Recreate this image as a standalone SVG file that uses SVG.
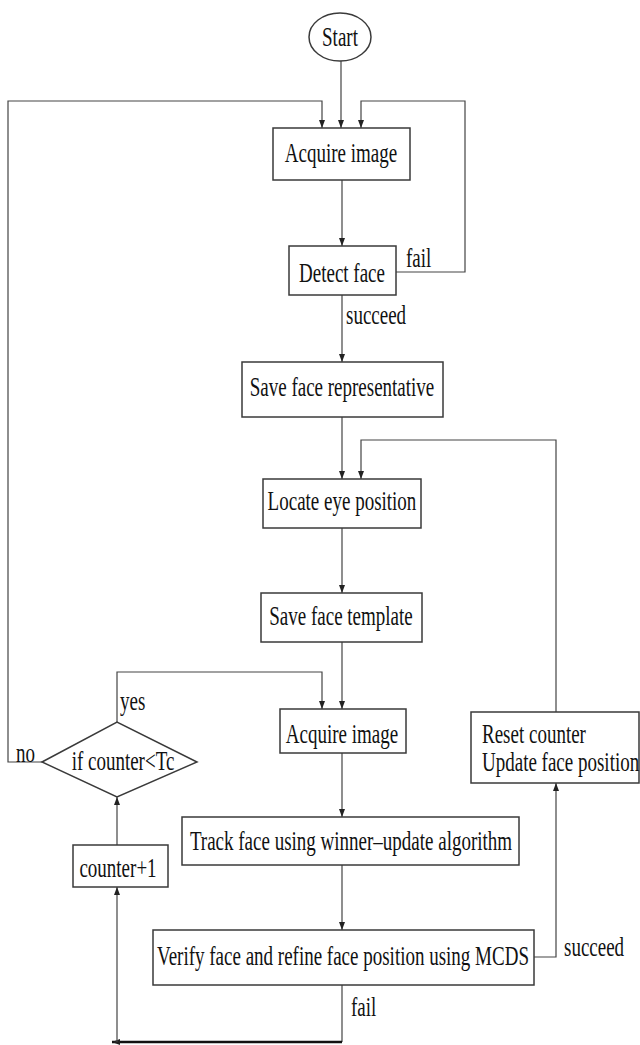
<svg xmlns="http://www.w3.org/2000/svg" width="640" height="1045" viewBox="0 0 640 1045">
<style>
.bg{fill:#ffffff}
.box{fill:#ffffff;stroke:#3a3a3a;stroke-width:1.5}
.ln{fill:none;stroke:#444;stroke-width:1.2}
.thick{fill:none;stroke:#111;stroke-width:2.5}
.t{font-family:"Liberation Serif","Times New Roman",serif;font-size:19px;fill:#111}
.m{text-anchor:middle}
</style>
<defs>
<marker id="ah" markerUnits="userSpaceOnUse" markerWidth="8" markerHeight="6" refX="8" refY="3" orient="auto">
<path d="M0,0 L8,3 L0,6 z" fill="#222"/>
</marker>
</defs>
<rect class="bg" x="0" y="0" width="640" height="1045"/>
<g id="connectors">
<path class="ln" d="M341,61 L341,128" marker-end="url(#ah)"/>
<path class="ln" d="M42,762 L8,762 L8,101 L322,101 L322,128" marker-end="url(#ah)"/>
<path class="ln" d="M396,272 L465,272 L465,101 L361,101 L361,128" marker-end="url(#ah)"/>
<path class="ln" d="M342,180 L342,246" marker-end="url(#ah)"/>
<path class="ln" d="M342,295 L342,362" marker-end="url(#ah)"/>
<path class="ln" d="M342,417 L342,479" marker-end="url(#ah)"/>
<path class="ln" d="M556,712 L556,440 L361,440 L361,479" marker-end="url(#ah)"/>
<path class="ln" d="M342,528 L342,593" marker-end="url(#ah)"/>
<path class="ln" d="M342,642 L342,709" marker-end="url(#ah)"/>
<path class="ln" d="M117,722 L117,672 L322,672 L322,709" marker-end="url(#ah)"/>
<path class="ln" d="M342,753 L342,817" marker-end="url(#ah)"/>
<path class="ln" d="M342,865 L342,930" marker-end="url(#ah)"/>
<path class="ln" d="M534,957 L556,957 L556,783" marker-end="url(#ah)"/>
<path class="ln" d="M342,985 L342,1042"/>
<path class="thick" d="M342,1042 L112,1042" marker-end="url(#ah)"/>
<path class="ln" d="M117,1042 L117,887" marker-end="url(#ah)"/>
<path class="ln" d="M117,845 L117,797" marker-end="url(#ah)"/>
<text class="t" transform="translate(406,267) scale(1,1.4)">fail</text>
<text class="t" transform="translate(346,324) scale(1,1.4)">succeed</text>
<text class="t" transform="translate(120,710) scale(1,1.4)">yes</text>
<text class="t" transform="translate(16,762) scale(1,1.4)">no</text>
<text class="t" transform="translate(564,956) scale(1,1.4)">succeed</text>
<text class="t" transform="translate(351,1016) scale(1,1.4)">fail</text>
</g>
<g id="start">
<ellipse class="box" cx="340" cy="37" rx="31" ry="24"/>
<text class="t m" transform="translate(340,46) scale(1,1.4)">Start</text>
</g>
<g id="acquire1">
<rect class="box" x="273" y="128" width="137" height="52"/>
<text class="t m" transform="translate(341,162) scale(1,1.4)">Acquire image</text>
</g>
<g id="detect">
<rect class="box" x="289" y="246" width="107" height="49"/>
<text class="t m" transform="translate(342,282) scale(1,1.4)">Detect face</text>
</g>
<g id="saverep">
<rect class="box" x="242" y="362" width="201" height="55"/>
<text class="t m" transform="translate(342,396) scale(1,1.4)">Save face representative</text>
</g>
<g id="locate">
<rect class="box" x="263" y="479" width="158" height="49"/>
<text class="t m" transform="translate(342,510) scale(1,1.4)">Locate eye position</text>
</g>
<g id="savetpl">
<rect class="box" x="261" y="593" width="161" height="49"/>
<text class="t m" transform="translate(341,625) scale(1,1.4)">Save face template</text>
</g>
<g id="acquire2">
<rect class="box" x="280" y="709" width="126" height="44"/>
<text class="t m" transform="translate(342,743) scale(1,1.4)">Acquire image</text>
</g>
<g id="decision">
<polygon class="box" points="42,762 117,722 197,762 117,797"/>
<text class="t m" transform="translate(123,770) scale(1,1.4)">if counter&lt;Tc</text>
</g>
<g id="reset">
<rect class="box" x="471" y="712" width="168" height="71"/>
<text class="t" transform="translate(482,743) scale(1,1.4)">Reset counter</text>
<text class="t" transform="translate(482,771) scale(1,1.4)">Update face position</text>
</g>
<g id="track">
<rect class="box" x="182" y="817" width="337" height="48"/>
<text class="t m" transform="translate(351,850) scale(1,1.4)">Track face using winner–update algorithm</text>
</g>
<g id="counter">
<rect class="box" x="73" y="845" width="95" height="42"/>
<text class="t m" transform="translate(118,877) scale(1,1.4)">counter+1</text>
</g>
<g id="verify">
<rect class="box" x="153" y="930" width="381" height="55"/>
<text class="t m" transform="translate(343,965) scale(1,1.4)">Verify face and refine face position using MCDS</text>
</g>
</svg>
